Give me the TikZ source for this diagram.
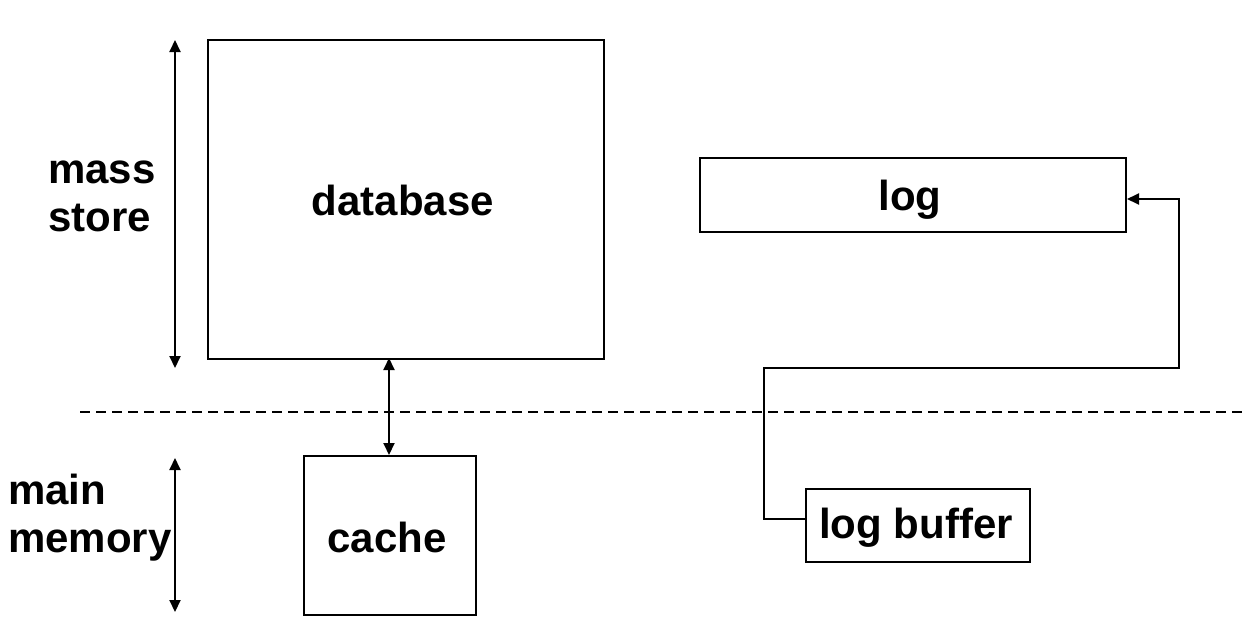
\documentclass[tikz,border=0pt]{standalone}
\usepackage{fontspec}
\setmainfont{Liberation Sans}
\usetikzlibrary{arrows.meta}
\begin{document}
\begin{tikzpicture}[x=1pt,y=-1pt,
  box/.style={draw,line width=2pt,inner sep=0pt,anchor=north west},
  lbl/.style={font=\fontsize{42}{48}\selectfont\bfseries,inner sep=0pt},
  conn/.style={line width=2pt},
  tip/.style={-{Triangle[length=12pt,width=11pt]}},
  tips/.style={{Triangle[length=12pt,width=11pt]}-{Triangle[length=12pt,width=11pt]}}]
\useasboundingbox (0,0) rectangle (1242,632);
\node[box,minimum width=396pt,minimum height=319pt] (db) at (207,39) {};
\node[box,minimum width=426pt,minimum height=74pt] (log) at (699,157) {};
\node[box,minimum width=172pt,minimum height=159pt] (cache) at (303,455) {};
\node[box,minimum width=224pt,minimum height=73pt] (lb) at (805,488) {};
\node[lbl] (dbt) at (403,200) {database};
\node[lbl] (logt) at (910,200) {log};
\node[lbl] (cachet) at (387,537) {cache};
\node[lbl] (lbt) at (916,528) {log buffer};
\node[lbl,anchor=west,align=left] (ms) at (48,196) {mass\\store};
\node[lbl,anchor=west,align=left] (mm) at (8,518) {main\\memory};
\coordinate (d1) at (80,412);
\coordinate (d2) at (1242,412);
\draw[conn,dashed,dash pattern=on 10pt off 6pt] (d1) -- (d2);
\coordinate (a1) at (175,40);
\coordinate (a2) at (175,368);
\coordinate (a3) at (175,458);
\coordinate (a4) at (175,612);
\draw[conn,tips] (a1) -- (a2);
\draw[conn,tips] (a3) -- (a4);
\draw[conn,tips] (389,358) coordinate (x1) -- (389,455) coordinate (x2);
\coordinate (c1) at (764,519);
\coordinate (c2) at (764,368);
\coordinate (c3) at (1179,368);
\coordinate (c4) at (1179,199);
\draw[conn,tip] (c1 -| lb.west) -- (c1) -- (c2) -- (c3) -- (c4) -- (c4 -| log.east);
\end{tikzpicture}
\end{document}
